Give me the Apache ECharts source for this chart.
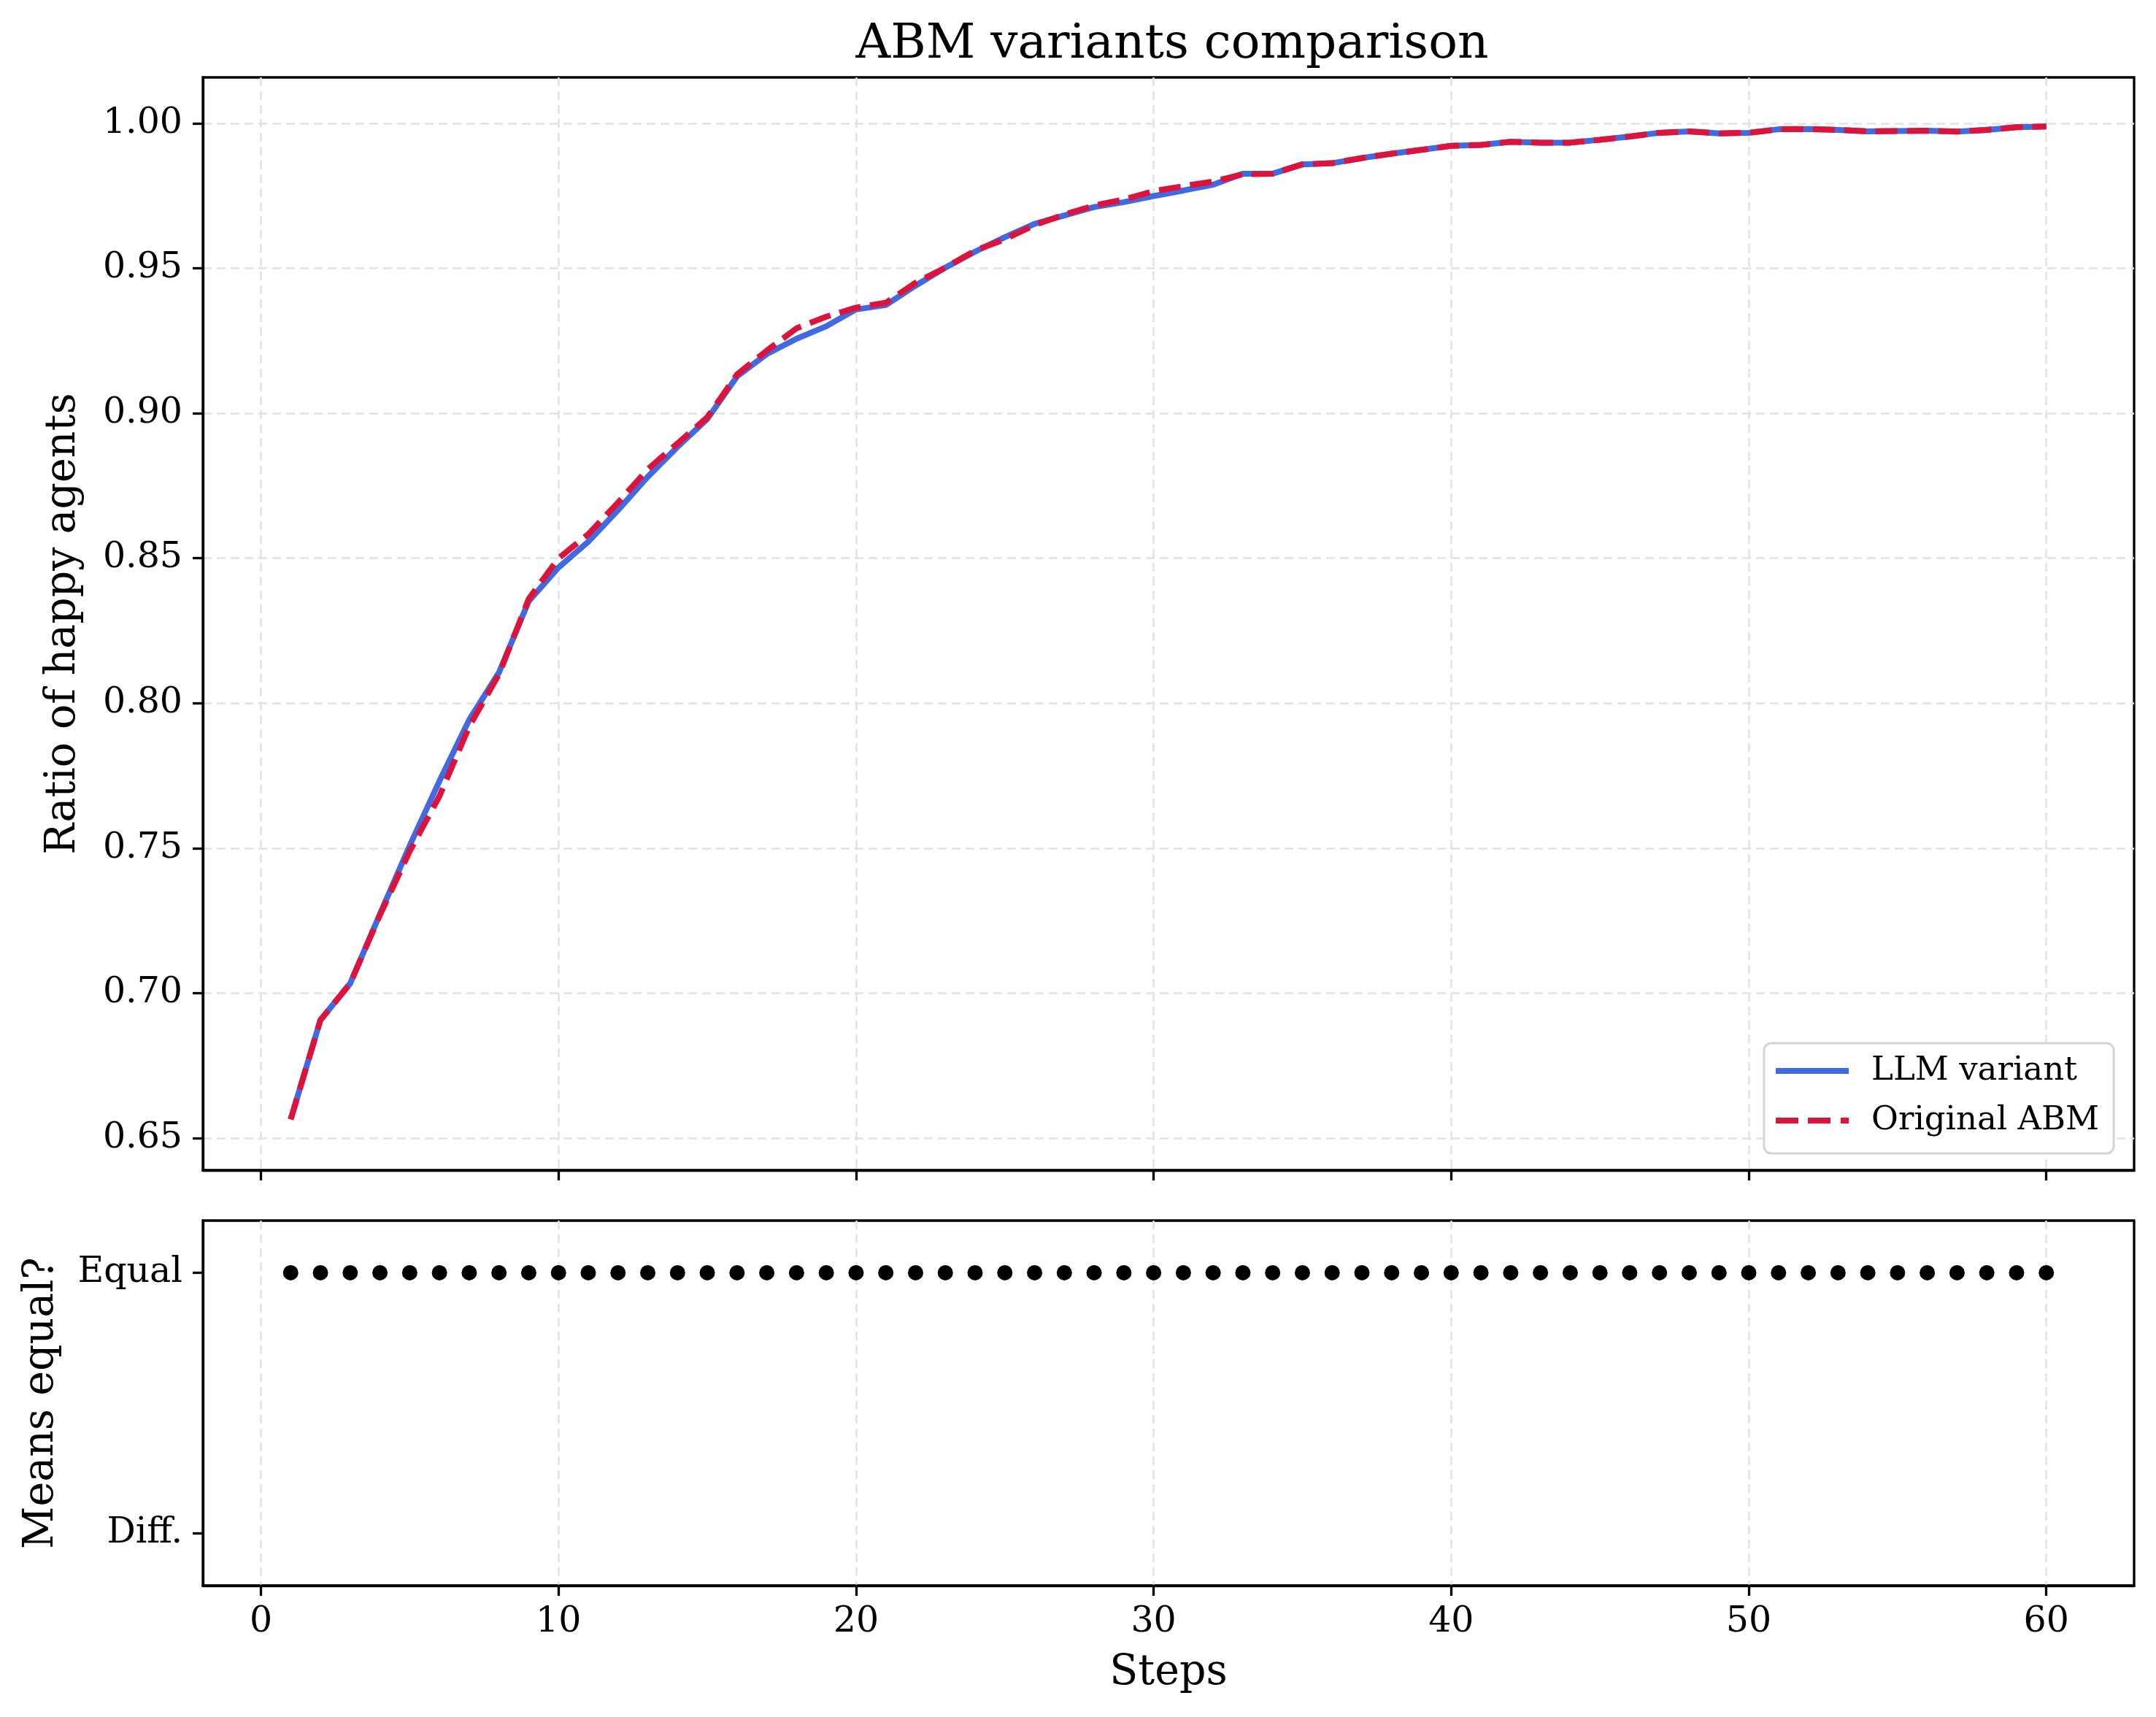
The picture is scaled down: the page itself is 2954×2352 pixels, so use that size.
<!DOCTYPE html>
<html>
<head>
<meta charset="utf-8">
<script src="https://cdn.jsdelivr.net/npm/echarts@6/dist/echarts.min.js"></script>
<style>
  html, body { margin: 0; padding: 0; background: #fff; }
  #chart { width: 2954px; height: 2352px; }
</style>
</head>
<body>
<div id="chart"></div>
<script>
// data
const steps = [1, 2, 3, 4, 5, 6, 7, 8, 9, 10, 11, 12, 13, 14, 15, 16, 17, 18, 19, 20,
  21, 22, 23, 24, 25, 26, 27, 28, 29, 30, 31, 32, 33, 34, 35, 36, 37, 38, 39, 40,
  41, 42, 43, 44, 45, 46, 47, 48, 49, 50, 51, 52, 53, 54, 55, 56, 57, 58, 59, 60];

const llmVariant = [0.6565, 0.6908, 0.7034, 0.7273, 0.7509, 0.7732, 0.7943, 0.8106, 0.8352, 0.8468,
  0.8557, 0.8666, 0.8781, 0.8884, 0.8980, 0.9127, 0.9204, 0.9257, 0.9300, 0.9358,
  0.9373, 0.9440, 0.9502, 0.9557, 0.9607, 0.9653, 0.9682, 0.9711, 0.9728, 0.9749,
  0.9768, 0.9788, 0.9826, 0.9826, 0.9858, 0.9862, 0.9880, 0.9895, 0.9908, 0.9922,
  0.9925, 0.9936, 0.9933, 0.9933, 0.9943, 0.9954, 0.9967, 0.9972, 0.9965, 0.9967,
  0.9979, 0.9980, 0.9977, 0.9972, 0.9973, 0.9974, 0.9971, 0.9977, 0.9986, 0.9989];

const originalAbm = [0.6565, 0.6908, 0.7034, 0.7270, 0.7490, 0.7680, 0.7920, 0.8100, 0.8360, 0.8500,
  0.8583, 0.8692, 0.8807, 0.8896, 0.8986, 0.9134, 0.9216, 0.9293, 0.9333, 0.9364,
  0.9381, 0.9450, 0.9502, 0.9561, 0.9600, 0.9649, 0.9685, 0.9716, 0.9737, 0.9766,
  0.9783, 0.9799, 0.9824, 0.9826, 0.9858, 0.9862, 0.9880, 0.9895, 0.9908, 0.9922,
  0.9925, 0.9936, 0.9933, 0.9933, 0.9943, 0.9954, 0.9967, 0.9972, 0.9965, 0.9967,
  0.9979, 0.9980, 0.9977, 0.9972, 0.9973, 0.9974, 0.9971, 0.9977, 0.9986, 0.9989];

// 1 = Equal, 0 = Diff.
const meansEqual = [1, 1, 1, 1, 1, 1, 1, 1, 1, 1, 1, 1, 1, 1, 1, 1, 1, 1, 1, 1,
  1, 1, 1, 1, 1, 1, 1, 1, 1, 1, 1, 1, 1, 1, 1, 1, 1, 1, 1, 1,
  1, 1, 1, 1, 1, 1, 1, 1, 1, 1, 1, 1, 1, 1, 1, 1, 1, 1, 1, 1];

const stepTicks = [0, 10, 20, 30, 40, 50, 60];
const ratioTicks = [0.65, 0.70, 0.75, 0.80, 0.85, 0.90, 0.95, 1.00];
const equalTicks = [0, 1];
const equalLabels = ["Diff.", "Equal"];

const font = "DejaVu Serif";
const ink = "#000";
const gridLine = { show: true, lineStyle: { color: "#e2e2e2", width: 2.5, type: [12, 7] } };
const spine = { show: true, onZero: false, lineStyle: { color: ink, width: 3.3 } };
const tick = (values) => ({
  show: true, customValues: values, length: 14, inside: false,
  lineStyle: { color: ink, width: 3.3 },
});
const pair = (xs, ys) => xs.map((x, i) => [x, ys[i]]);

const chart = echarts.init(document.getElementById("chart"), null, { renderer: "canvas" });

chart.setOption({
  animation: false,
  backgroundColor: "#fff",
  textStyle: { fontFamily: font, color: ink },
  title: {
    text: "ABM variants comparison",
    left: 1601, top: 24, textAlign: "center",
    textStyle: { fontFamily: font, fontSize: 66, fontWeight: "normal", color: ink },
  },
  legend: {
    orient: "vertical",
    left: 2417, top: 1429,
    padding: [13, 20, 20, 16],
    itemGap: 18,
    itemWidth: 100, itemHeight: 8,
    backgroundColor: "#fff",
    borderColor: "#d4d4d4", borderWidth: 3, borderRadius: 10,
    textStyle: { fontFamily: font, fontSize: 45, color: ink, lineHeight: 50, padding: [0, 0, 0, 26] },
    data: [
      { name: "LLM variant", icon: "path://M0,0H100V8H0Z" },
      { name: "Original ABM", icon: "path://M0,0H31V8H0Z M44,0H75V8H44Z M89,0H100V8H89Z" },
    ],
  },
  grid: [
    { left: 278, right: 30, top: 106, height: 1497, show: true, borderColor: ink, borderWidth: 3.3, backgroundColor: "transparent" },
    { left: 278, right: 30, top: 1672, height: 500, show: true, borderColor: ink, borderWidth: 3.3, backgroundColor: "transparent" },
  ],
  xAxis: [
    {
      type: "value", gridIndex: 0, position: "bottom", min: -1.95, max: 62.95,
      axisLine: spine,
      axisTick: tick(stepTicks),
      axisLabel: { show: false, customValues: stepTicks },
      splitLine: gridLine,
    },
    {
      type: "value", gridIndex: 1, position: "bottom", min: -1.95, max: 62.95,
      axisLine: spine,
      axisTick: tick(stepTicks),
      axisLabel: {
        customValues: stepTicks, fontFamily: font, fontSize: 49, color: ink, margin: 26,
      },
      splitLine: gridLine,
      name: "Steps", nameLocation: "middle", nameGap: 92,
      nameTextStyle: { fontFamily: font, fontSize: 57, color: ink },
    },
  ],
  yAxis: [
    {
      type: "value", gridIndex: 0, position: "left", min: 0.639, max: 1.0158,
      axisLine: spine,
      axisTick: tick(ratioTicks),
      axisLabel: {
        customValues: ratioTicks, fontFamily: font, fontSize: 49, color: ink, margin: 28,
        formatter: (v) => v.toFixed(2),
      },
      splitLine: gridLine,
      name: "Ratio of happy agents", nameLocation: "middle", nameGap: 162,
      nameTextStyle: { fontFamily: font, fontSize: 57, color: ink },
    },
    {
      type: "value", gridIndex: 1, position: "left", min: -0.2, max: 1.2,
      axisLine: spine,
      axisTick: tick(equalTicks),
      axisLabel: {
        customValues: equalTicks, fontFamily: font, fontSize: 49, color: ink, margin: 28,
        formatter: (v) => equalLabels[Math.round(v)] || "",
      },
      splitLine: { show: false },
      name: "Means equal?", nameLocation: "middle", nameGap: 192,
      nameTextStyle: { fontFamily: font, fontSize: 57, color: ink },
    },
  ],
  series: [
    {
      name: "LLM variant", type: "line", xAxisIndex: 0, yAxisIndex: 0,
      data: pair(steps, llmVariant), showSymbol: false, symbol: "none",
      lineStyle: { color: "#4169E1", width: 8 }, itemStyle: { color: "#4169E1" },
    },
    {
      name: "Original ABM", type: "line", xAxisIndex: 0, yAxisIndex: 0,
      data: pair(steps, originalAbm), showSymbol: false, symbol: "none",
      lineStyle: { color: "#DC143C", width: 8, type: [30, 13] }, itemStyle: { color: "#DC143C" },
    },
    {
      name: "Means equal", type: "scatter", xAxisIndex: 1, yAxisIndex: 1,
      data: pair(steps, meansEqual), symbol: "circle", symbolSize: 21,
      itemStyle: { color: ink, opacity: 1 },
    },
  ],
});
</script>
</body>
</html>
